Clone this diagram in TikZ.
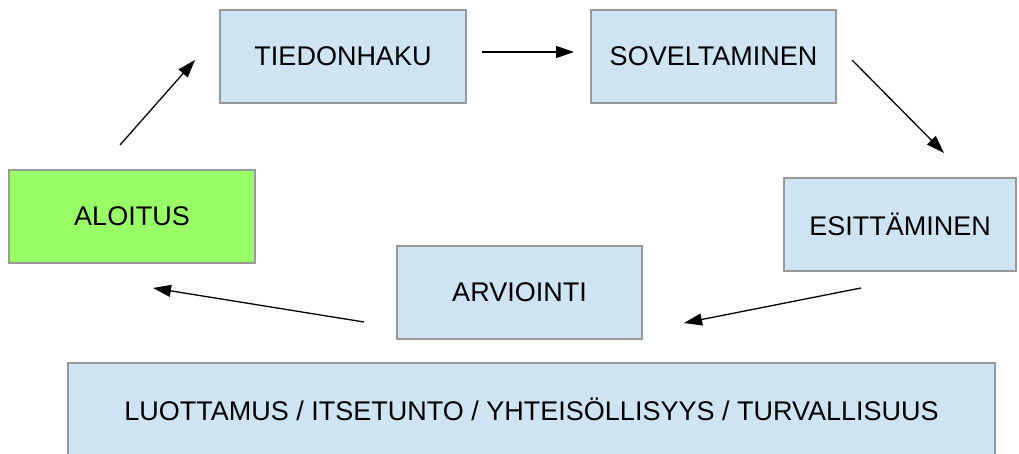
\documentclass[tikz,border=0pt]{standalone}
\usepackage{fontspec}
\setmainfont{Liberation Sans}
\usetikzlibrary{arrows.meta}
\definecolor{boxblue}{HTML}{CFE4F3}
\definecolor{boxgreen}{HTML}{99FF66}
\definecolor{boxgray}{HTML}{999999}
\begin{document}
\begin{tikzpicture}[x=1pt,y=-1pt,
  box/.style={draw=boxgray, line width=1.5pt, fill=boxblue, anchor=north west,
    inner sep=0pt, outer sep=0pt, text=black,
    font=\fontsize{27}{31}\selectfont},
  flow/.style={-{Triangle[length=18pt,width=12pt]}, line width=1.3pt, black}]
\useasboundingbox (0,0) rectangle (1019,454);
\clip (0,0) rectangle (1019,454);
\node[box, minimum width=246pt, minimum height=93pt] (tied) at (220,10) {TIEDONHAKU};
\node[box, minimum width=245pt, minimum height=93pt] (sov) at (591,10) {SOVELTAMINEN};
\node[box, minimum width=232pt, minimum height=93pt] (esit) at (784,178) {ESITTÄMINEN};
\node[box, minimum width=245pt, minimum height=93pt] (arv) at (397,246) {ARVIOINTI};
\node[box, fill=boxgreen, minimum width=246pt, minimum height=93pt] (alo) at (9,170) {ALOITUS};
\node[box, minimum width=927pt, minimum height=93pt] (bar) at (68,363) {LUOTTAMUS / ITSETUNTO / YHTEISÖLLISYYS / TURVALLISUUS};
\coordinate (a1s) at (120,145); \coordinate (a1e) at (195,60);
\coordinate (a2s) at (482,52);  \coordinate (a2e) at (574,52);
\coordinate (a3s) at (852,60);  \coordinate (a3e) at (944,153);
\coordinate (a4s) at (861,288); \coordinate (a4e) at (684,323);
\coordinate (a5s) at (364,322); \coordinate (a5e) at (153,288);
\draw[flow] (a1s) -- (a1e);
\draw[flow] (a2s) -- (a2e);
\draw[flow] (a3s) -- (a3e);
\draw[flow] (a4s) -- (a4e);
\draw[flow] (a5s) -- (a5e);
\end{tikzpicture}
\end{document}
